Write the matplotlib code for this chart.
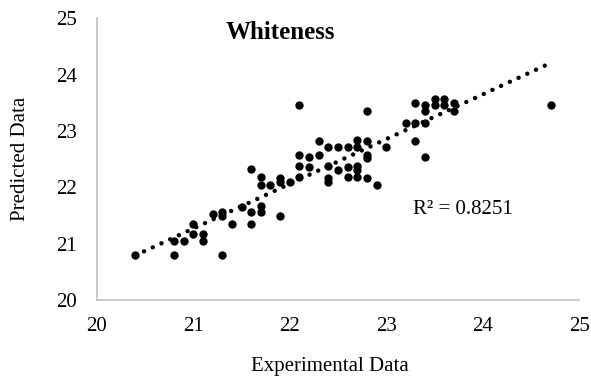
import numpy as np
import matplotlib
matplotlib.use('Agg')
import matplotlib.pyplot as plt

# experimental vs predicted whiteness values
experimental = [
    20.4, 20.8, 21.3, 20.8, 20.9, 21.0, 21.0, 21.1, 21.1, 21.2,
    21.3, 21.3, 21.4, 21.5, 21.6, 21.6, 21.6, 21.7, 21.7, 21.7,
    21.7, 21.8, 21.9, 21.9, 21.9, 22.0, 22.1, 22.1, 22.1, 22.1,
    22.2, 22.2, 22.3, 22.3, 22.4, 22.4, 22.4, 22.4, 22.5, 22.5,
    22.6, 22.6, 22.6, 22.7, 22.7, 22.7, 22.7, 22.7, 22.8, 22.8,
    22.8, 22.8, 22.8, 22.9, 23.0, 23.2, 23.3, 23.3, 23.3, 23.4,
    23.4, 23.4, 23.4, 23.5, 23.5, 23.6, 23.6, 23.7, 23.7, 24.7,
]
predicted = [
    20.8, 20.8, 20.8, 21.05, 21.05, 21.35, 21.18, 21.18, 21.05, 21.52,
    21.57, 21.5, 21.35, 21.66, 21.35, 21.57, 22.32, 21.57, 21.67, 22.19,
    22.05, 22.05, 21.5, 22.17, 22.1, 22.09, 23.46, 22.57, 22.38, 22.18,
    22.54, 22.37, 22.83, 22.57, 22.72, 22.38, 22.17, 22.09, 22.72, 22.31,
    22.72, 22.36, 22.18, 22.84, 22.72, 22.38, 22.31, 22.19, 23.36, 22.83,
    22.57, 22.53, 22.17, 22.05, 22.72, 23.14, 23.5, 23.14, 22.83, 23.46,
    23.36, 23.14, 22.54, 23.57, 23.46, 23.57, 23.46, 23.5, 23.36, 23.46,
]
ticks = [20, 21, 22, 23, 24, 25]
r2_label = 'R² = 0.8251'

plt.rcParams['font.family'] = ['Liberation Serif', 'DejaVu Serif']

fig = plt.figure(figsize=(5.91, 3.83), dpi=100)
ax = fig.add_axes([0.1636, 0.2167, 0.8169, 0.7353])

x = np.array(experimental)
y = np.array(predicted)
ax.scatter(x, y, s=36, color='black', zorder=3, linewidths=0)

# linear trendline (Excel style, dotted)
slope, intercept = np.polyfit(x, y, 1)
xs = np.array([x.min(), x.max()])
ax.plot(xs, slope * xs + intercept, color='black', lw=3.2,
        linestyle=(0, (0.01, 2.15)), dash_capstyle='round', zorder=2)

ax.set_xlim(20, 25)
ax.set_ylim(20, 25)
ax.set_xticks(ticks)
ax.set_yticks(ticks)
ax.tick_params(length=0, labelsize=15, pad=12)
ax.tick_params(axis='y', pad=14)
for side in ['top', 'right']:
    ax.spines[side].set_visible(False)
for side in ['left', 'bottom']:
    ax.spines[side].set_color('#bfbfbf')
    ax.spines[side].set_linewidth(1.2)

ax.text(23.28, 21.6, r2_label, fontsize=15, ha='left', va='center')
fig.text(280 / 591, 1 - 32.4 / 383, 'Whiteness', fontsize=18,
         fontweight='bold', ha='center', va='center')
fig.text(330 / 591, 1 - 367 / 383, 'Experimental Data', fontsize=15,
         ha='center', va='center')
fig.text(21 / 591, 1 - 159 / 383, 'Predicted Data', fontsize=15,
         ha='center', va='center', rotation=90)

fig.savefig('out.png', dpi=100)
